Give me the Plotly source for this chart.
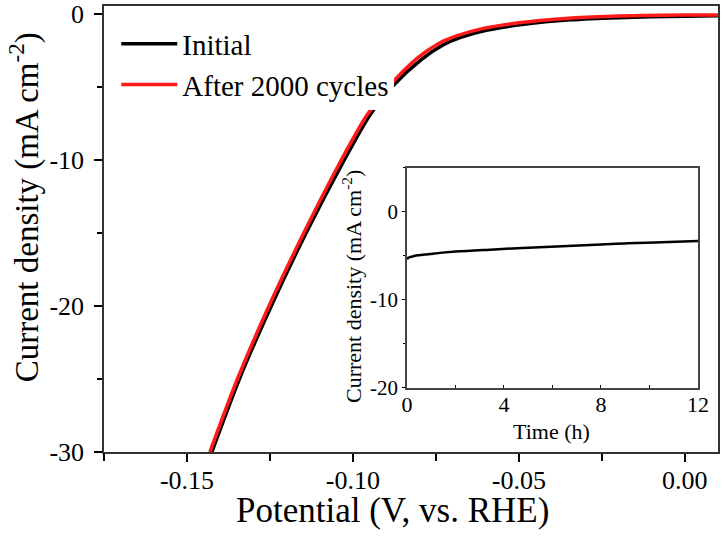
import plotly.graph_objects as go

# LSV polarization curves (potential in V vs RHE, current density in mA cm-2)
pot_initial = [-0.1425, -0.1342, -0.1246, -0.1141, -0.1026, -0.0951, -0.0883,
               -0.0793, -0.0727, -0.0675, -0.0595, -0.0485, -0.0345, -0.0200, 0.0000, 0.0100]
cur_initial = [-30.0, -25.0, -20.0, -15.0, -10.0, -7.0, -5.0,
               -3.1, -2.1, -1.6, -1.1, -0.7, -0.4, -0.25, -0.15, -0.12]

pot_after = [-0.1431, -0.1348, -0.1253, -0.1148, -0.1035, -0.0960, -0.0893,
             -0.0805, -0.0740, -0.0688, -0.0610, -0.0500, -0.0360, -0.0220, 0.0000, 0.0100]
cur_after = [-30.0, -25.0, -20.0, -15.0, -10.0, -7.0, -5.0,
             -3.0, -2.0, -1.5, -1.0, -0.6, -0.3, -0.15, -0.07, -0.07]

# chronoamperometry inset (time in h)
time_h = [0.0, 0.05, 0.3, 0.87, 2.0, 3.6, 5.0, 6.4, 8.0, 9.1, 10.5, 12.0]
cur_time = [-5.4, -5.2, -5.0, -4.8, -4.5, -4.25, -4.05, -3.9, -3.7, -3.56, -3.45, -3.3]

main_xticks = [-0.15, -0.10, -0.05, 0.00]
main_xlabels = ["-0.15", "-0.10", "-0.05", "0.00"]
main_yticks = [0, -10, -20, -30]
main_ylabels = ["0", "-10", "-20", "-30"]
inset_xticks = [0, 4, 8, 12]
inset_yticks = [0, -10, -20]
inset_ylabels = ["0", "-10", "-20"]

font_name = "Liberation Serif"

fig = go.Figure()
fig.add_trace(go.Scatter(x=pot_initial, y=cur_initial, mode="lines", name="Initial",
                         line=dict(color="black", width=3.5, shape="spline", smoothing=0.8)))
fig.add_trace(go.Scatter(x=pot_after, y=cur_after, mode="lines", name="After 2000 cycles",
                         line=dict(color="#ff1a1a", width=3.5, shape="spline", smoothing=0.8)))
fig.add_trace(go.Scatter(x=time_h, y=cur_time, mode="lines", showlegend=False,
                         xaxis="x2", yaxis="y2",
                         line=dict(color="black", width=2.5, shape="spline")))

fig.update_layout(
    width=724, height=537,
    margin=dict(l=104, r=6, t=6, b=85),
    paper_bgcolor="white", plot_bgcolor="white",
    font=dict(family=font_name, color="black"),
    xaxis=dict(range=[-0.175, 0.01], tickvals=main_xticks, ticktext=main_xlabels,
               automargin=False, ticklabelstandoff=-4,
               ticks="outside", ticklen=8, tickwidth=1.5, tickcolor="black",
               minor=dict(dtick=0.025, tick0=0, ticks="outside", ticklen=7, tickcolor="black", tickwidth=1.5),
               showline=True, linecolor="#333", linewidth=1.5, mirror=True,
               showgrid=False, zeroline=False,
               tickfont=dict(family=font_name, size=26)),
    yaxis=dict(range=[-30, 0.55], tickvals=main_yticks, ticktext=main_ylabels,
               automargin=False, ticklabelstandoff=5,
               ticks="outside", ticklen=8, tickwidth=1.5, tickcolor="black",
               minor=dict(dtick=5, tick0=0, ticks="outside", ticklen=5, tickcolor="black", tickwidth=1.5),
               showline=True, linecolor="#333", linewidth=1.5, mirror=True,
               showgrid=False, zeroline=False,
               tickfont=dict(family=font_name, size=26)),
    xaxis2=dict(domain=[0.4935, 0.9674], anchor="y2", range=[0, 12],
                automargin=False, ticklabelstandoff=-4,
                tickvals=inset_xticks, ticks="inside", ticklen=3, tickcolor="black",
                minor=dict(dtick=2, ticks="inside", ticklen=3, tickcolor="black"),
                showline=True, linecolor="#444", linewidth=1.5, mirror=True,
                showgrid=False, zeroline=False, tickfont=dict(family=font_name, size=22)),
    yaxis2=dict(domain=[0.1435, 0.6368], anchor="x2", range=[-20, 5], automargin=False,
                tickvals=inset_yticks, ticktext=inset_ylabels,
                ticks="outside", ticklen=3, tickcolor="black",
                minor=dict(dtick=5, ticks="outside", ticklen=2, tickcolor="black"),
                showline=True, linecolor="#444", linewidth=1.5, mirror=True,
                showgrid=False, zeroline=False, tickfont=dict(family=font_name, size=21)),
    legend=dict(x=0.02, y=0.972, xanchor="left", yanchor="top",
                bgcolor="white", font=dict(family=font_name, size=29),
                tracegroupgap=0, itemwidth=56),
)

# axis titles as paper annotations so they sit where the reference puts them
fig.add_annotation(text="Potential (V, vs. RHE)", xref="paper", yref="paper",
                   x=0.47, y=-0.132, xanchor="center", yanchor="middle",
                   showarrow=False, font=dict(family=font_name, size=35, color="black"))
fig.add_annotation(text="Current density (mA cm<sup>-2</sup>)", xref="paper", yref="paper",
                   x=-0.13, y=0.549, xanchor="center", yanchor="middle", textangle=-90,
                   showarrow=False, font=dict(family=font_name, size=33, color="black"))
fig.add_annotation(text="Time (h)", xref="paper", yref="paper",
                   x=0.7296, y=0.047, xanchor="center", yanchor="middle",
                   showarrow=False, font=dict(family=font_name, size=22, color="black"))
fig.add_annotation(text="Current density (mA cm<sup>-2</sup>)", xref="paper", yref="paper",
                   x=0.404, y=0.37, xanchor="center", yanchor="middle", textangle=-90,
                   showarrow=False, font=dict(family=font_name, size=22, color="black"))

# the page body has a default margin; drop it so the figure fills the window
fig.write_html("out.html", config={"displayModeBar": False},
               post_script="document.body.style.margin='0';")
